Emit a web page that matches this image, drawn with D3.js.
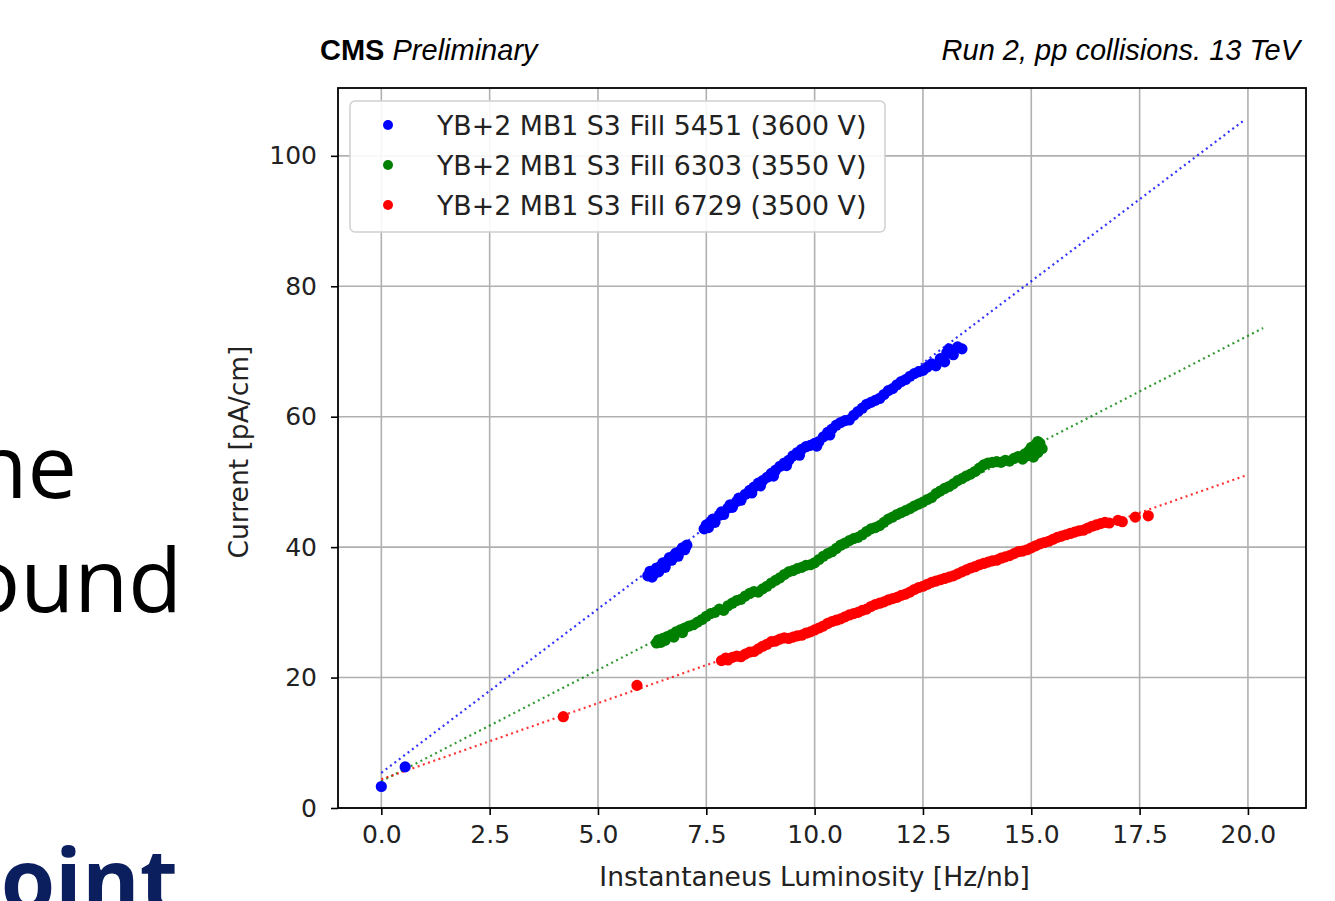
<!DOCTYPE html>
<html>
<head>
<meta charset="utf-8">
<script src="https://cdn.jsdelivr.net/npm/d3@7/dist/d3.min.js"></script>
<style>
  body { margin: 0; background: #fff; }
  .grid line { stroke: #b0b0b0; stroke-width: 1.6; }
  .tick text { font-family: "DejaVu Sans", sans-serif; font-size: 25px; fill: #222; }
  .tick line { stroke: #000; stroke-width: 1.6; }
  .domain { display: none; }
</style>
</head>
<body>
<svg width="1335" height="901"></svg>
<script>
// tick values
var xTicks = [0, 2.5, 5, 7.5, 10, 12.5, 15, 17.5, 20];
var yTicks = [0, 20, 40, 60, 80, 100];

var seriesNames = [
  "YB+2 MB1 S3 Fill 5451 (3600 V)",
  "YB+2 MB1 S3 Fill 6303 (3550 V)",
  "YB+2 MB1 S3 Fill 6729 (3500 V)"
];
var seriesColors = ["#0000ff", "#008000", "#ff0000"];

// Fill 5451 measurements [lumi, current]
var blueData = [
  [0.0, 3.3], [0.55, 6.3],
  [6.15, 35.6], [6.2, 36.3], [6.25, 35.4], [6.3, 36.0], [6.35, 36.8], [6.4, 36.2], [6.45, 37.1],
  [6.5, 37.6], [6.55, 36.9], [6.6, 37.8], [6.65, 38.4], [6.7, 38.0], [6.75, 38.7], [6.8, 39.1],
  [6.85, 38.6], [6.9, 39.4], [6.95, 39.9], [7.0, 39.6], [7.05, 40.3],
  [7.45, 42.8], [7.5, 43.4], [7.55, 43.0], [7.6, 43.9], [7.65, 44.3], [7.7, 43.8], [7.8, 44.9],
  [7.85, 45.4], [7.9, 45.0], [8.0, 46.0], [8.05, 46.5], [8.1, 46.1], [8.2, 47.0], [8.25, 47.5],
  [8.3, 47.2], [8.4, 48.1], [8.5, 48.7], [8.55, 48.3], [8.6, 49.2], [8.7, 49.8], [8.75, 49.4],
  [8.8, 50.2], [8.9, 50.7], [9.0, 51.3], [9.05, 50.9], [9.1, 51.8], [9.2, 52.4], [9.3, 52.9],
  [9.35, 52.5], [9.4, 53.3], [9.5, 54.0], [9.6, 54.5], [9.65, 54.1], [9.7, 55.0], [9.8, 55.4],
  [9.9, 55.6], [10.0, 55.9], [10.05, 55.5], [10.1, 56.2], [10.2, 56.9], [10.3, 57.6], [10.35, 57.2],
  [10.4, 58.1], [10.5, 58.7], [10.6, 59.1], [10.7, 59.4], [10.8, 59.5], [10.9, 60.2], [11.0, 60.8],
  [11.1, 61.3], [11.2, 61.9], [11.3, 62.2], [11.4, 62.5], [11.5, 62.8], [11.6, 63.4], [11.7, 64.0],
  [11.8, 64.3], [11.9, 64.9], [12.0, 65.4], [12.1, 65.7], [12.2, 66.2], [12.3, 66.6], [12.4, 66.9],
  [12.5, 67.1], [12.6, 67.6], [12.7, 68.1], [12.8, 67.8], [12.9, 68.9], [13.0, 68.4], [13.05, 69.8],
  [13.1, 70.4], [13.2, 69.5], [13.3, 70.7], [13.4, 70.4]
];

// Fill 6303
var greenData = [
  [6.35, 25.3], [6.4, 25.8], [6.45, 25.4], [6.5, 26.0], [6.55, 25.7], [6.6, 26.3], [6.7, 26.6],
  [6.75, 26.2], [6.8, 27.0], [6.9, 27.3], [6.95, 26.9], [7.0, 27.6], [7.1, 27.9], [7.2, 28.1],
  [7.3, 28.5], [7.4, 28.9], [7.5, 29.4], [7.6, 29.8], [7.7, 30.0], [7.8, 30.5], [7.9, 30.3],
  [8.0, 31.0], [8.1, 31.4], [8.2, 31.8], [8.3, 32.0], [8.4, 32.5], [8.5, 32.9], [8.6, 33.2],
  [8.7, 33.1], [8.8, 33.6], [8.9, 34.0], [9.0, 34.5], [9.1, 34.9], [9.2, 35.3], [9.3, 35.8],
  [9.4, 36.2], [9.5, 36.4], [9.6, 36.7], [9.7, 36.9], [9.8, 37.2], [9.9, 37.3], [10.0, 37.6],
  [10.1, 38.1], [10.2, 38.6], [10.3, 39.0], [10.4, 39.3], [10.5, 39.8], [10.6, 40.3], [10.7, 40.6],
  [10.8, 41.0], [10.9, 41.3], [11.0, 41.5], [11.1, 41.9], [11.2, 42.4], [11.3, 42.8], [11.4, 43.0],
  [11.5, 43.3], [11.6, 43.8], [11.7, 44.3], [11.8, 44.6], [11.9, 45.0], [12.0, 45.3], [12.1, 45.6],
  [12.2, 45.9], [12.3, 46.3], [12.4, 46.6], [12.5, 46.9], [12.6, 47.3], [12.7, 47.6], [12.8, 48.2],
  [12.9, 48.6], [13.0, 49.0], [13.1, 49.3], [13.2, 49.7], [13.3, 50.2], [13.4, 50.5], [13.5, 50.9],
  [13.6, 51.2], [13.7, 51.6], [13.8, 52.1], [13.9, 52.6], [14.0, 52.9], [14.1, 53.0], [14.2, 53.1],
  [14.3, 53.0], [14.4, 53.3], [14.5, 53.2], [14.6, 53.6], [14.7, 53.9], [14.8, 53.5], [14.85, 54.3],
  [14.9, 54.0], [14.95, 54.8], [15.0, 55.3], [15.05, 53.8], [15.1, 55.7], [15.15, 54.5], [15.2, 55.9],
  [15.25, 55.1], [15.15, 56.2], [15.05, 55.0]
];

// Fill 6729
var redData = [
  [4.2, 14.0], [5.9, 18.8],
  [7.85, 22.6], [7.95, 23.0], [8.0, 22.7], [8.1, 23.1], [8.2, 23.3], [8.3, 23.2], [8.4, 23.6],
  [8.5, 23.9], [8.6, 24.0], [8.7, 24.4], [8.8, 24.8], [8.9, 25.1], [9.0, 25.5], [9.1, 25.6],
  [9.2, 25.9], [9.3, 26.1], [9.4, 26.0], [9.5, 26.2], [9.6, 26.4], [9.7, 26.5], [9.8, 26.8],
  [9.9, 27.0], [10.0, 27.3], [10.1, 27.6], [10.2, 27.9], [10.3, 28.3], [10.4, 28.6], [10.5, 28.8],
  [10.6, 29.0], [10.7, 29.3], [10.8, 29.6], [10.9, 29.8], [11.0, 30.0], [11.1, 30.3], [11.2, 30.5],
  [11.3, 30.9], [11.4, 31.2], [11.5, 31.4], [11.6, 31.6], [11.7, 31.9], [11.8, 32.1], [11.9, 32.3],
  [12.0, 32.6], [12.1, 32.8], [12.2, 33.1], [12.3, 33.5], [12.4, 33.8], [12.5, 34.0], [12.6, 34.3],
  [12.7, 34.6], [12.8, 34.8], [12.9, 35.0], [13.0, 35.2], [13.1, 35.4], [13.2, 35.6], [13.3, 35.9],
  [13.4, 36.2], [13.5, 36.5], [13.6, 36.8], [13.7, 37.0], [13.8, 37.3], [13.9, 37.5], [14.0, 37.7],
  [14.1, 37.9], [14.2, 38.0], [14.3, 38.3], [14.4, 38.5], [14.5, 38.7], [14.6, 39.0], [14.7, 39.3],
  [14.8, 39.4], [14.9, 39.6], [15.0, 39.9], [15.1, 40.2], [15.2, 40.5], [15.3, 40.7], [15.4, 40.9],
  [15.5, 41.2], [15.6, 41.5], [15.7, 41.7], [15.8, 41.9], [15.9, 42.1], [16.0, 42.3], [16.1, 42.5],
  [16.2, 42.6], [16.3, 42.9], [16.4, 43.2], [16.5, 43.4], [16.6, 43.6], [16.7, 43.8], [16.8, 43.7],
  [17.0, 44.1], [17.1, 43.9], [17.4, 44.6], [17.7, 44.8]
];

// linear fit end points
var blueFit = [[0, 5.4], [19.9, 105.4]];
var greenFit = [[0, 4.1], [20.35, 73.6]];
var redFit = [[0, 4.4], [20.0, 51.1]];

(function (d3) {
  'use strict';
  var svg = d3.select("svg"),
      margin = {top: 88, left: 338, right: 29, bottom: 93},
      width = +svg.attr("width") - margin.left - margin.right,
      height = +svg.attr("height") - margin.top - margin.bottom;

  // slide text leaking in on the left
  svg.append("text").attr("x", 77).attr("y", 498).attr("text-anchor", "end")
    .style("font-family", "'Open Sans', sans-serif").style("font-size", "88px")
    .text("ne");
  svg.append("text").attr("x", 182).attr("y", 612).attr("text-anchor", "end")
    .style("font-family", "'Open Sans', sans-serif").style("font-size", "88px")
    .text("ound");
  svg.append("text").attr("x", 178).attr("y", 912).attr("text-anchor", "end")
    .style("font-family", "'Open Sans', sans-serif").style("font-size", "88px")
    .style("font-weight", "bold").style("fill", "#0b1f5e")
    .text("point");

  var x = d3.scaleLinear().domain([-1.0, 21.34]).range([0, width]),
      y = d3.scaleLinear().domain([0, 110.4]).range([height, 0]);

  var g = svg.append("g")
    .attr("transform", "translate(" + margin.left + "," + margin.top + ")");

  // grid
  g.append("g").attr("class", "grid")
    .selectAll("line").data(xTicks).enter().append("line")
    .attr("x1", function(d){ return x(d); }).attr("x2", function(d){ return x(d); })
    .attr("y1", 0).attr("y2", height);
  g.append("g").attr("class", "grid")
    .selectAll("line").data(yTicks).enter().append("line")
    .attr("y1", function(d){ return y(d); }).attr("y2", function(d){ return y(d); })
    .attr("x1", 0).attr("x2", width);

  // axes
  g.append("g")
    .attr("transform", "translate(0," + height + ")")
    .call(d3.axisBottom(x).tickValues(xTicks).tickFormat(d3.format(".1f")).tickSize(7).tickPadding(10));
  g.append("g")
    .call(d3.axisLeft(y).tickValues(yTicks).tickFormat(d3.format("d")).tickSize(7).tickPadding(14));

  // fit lines
  var line = d3.line()
    .x(function(d){ return x(d[0]); })
    .y(function(d){ return y(d[1]); });
  [blueFit, greenFit, redFit].forEach(function(f, i) {
    g.append("path").datum(f)
      .attr("d", line)
      .attr("fill", "none")
      .attr("stroke", seriesColors[i])
      .attr("stroke-width", 2.2)
      .attr("stroke-dasharray", "2,3.5")
      .attr("opacity", 0.8);
  });

  // points
  [blueData, greenData, redData].forEach(function(s, i) {
    g.append("g").selectAll("circle").data(s).enter().append("circle")
      .attr("cx", function(d){ return x(d[0]); })
      .attr("cy", function(d){ return y(d[1]); })
      .attr("r", 5.6)
      .attr("fill", seriesColors[i]);
  });

  // frame
  g.append("rect").attr("width", width).attr("height", height)
    .attr("fill", "none").attr("stroke", "#000").attr("stroke-width", 1.8);

  // legend
  var leg = g.append("g").attr("transform", "translate(12,13)");
  leg.append("rect").attr("width", 535).attr("height", 131).attr("rx", 5)
    .attr("fill", "#fff").attr("fill-opacity", 0.9)
    .attr("stroke", "#d0d0d0").attr("stroke-width", 1.5);
  seriesNames.forEach(function(n, i) {
    var ly = 24 + i * 40;
    leg.append("circle").attr("cx", 38).attr("cy", ly).attr("r", 5).attr("fill", seriesColors[i]);
    leg.append("text").attr("x", 87).attr("y", ly).attr("dy", "0.36em")
      .style("font-family", "'DejaVu Sans', sans-serif").style("font-size", "26.8px")
      .style("fill", "#222").text(n);
  });

  // axis labels
  svg.append("text")
    .attr("x", margin.left + x(10)).attr("y", 886)
    .attr("text-anchor", "middle")
    .style("font-family", "'DejaVu Sans', sans-serif").style("font-size", "26.5px").style("fill", "#222")
    .text("Instantaneus Luminosity [Hz/nb]");
  svg.append("text")
    .attr("transform", "translate(248,452) rotate(-90)")
    .attr("text-anchor", "middle")
    .style("font-family", "'DejaVu Sans', sans-serif").style("font-size", "26.5px").style("fill", "#222")
    .text("Current [pA/cm]");

  // header
  var hdr = svg.append("text").attr("x", 320).attr("y", 60)
    .style("font-family", "'Liberation Sans', Arial, sans-serif").style("font-size", "29px");
  hdr.append("tspan").style("font-weight", "bold").text("CMS");
  hdr.append("tspan").style("font-style", "italic").text(" Preliminary");
  svg.append("text").attr("x", 1300).attr("y", 60).attr("text-anchor", "end")
    .style("font-family", "'Liberation Sans', Arial, sans-serif").style("font-size", "29px")
    .style("font-style", "italic")
    .text("Run 2, pp collisions. 13 TeV");
})(window.d3);
</script>
</body>
</html>
